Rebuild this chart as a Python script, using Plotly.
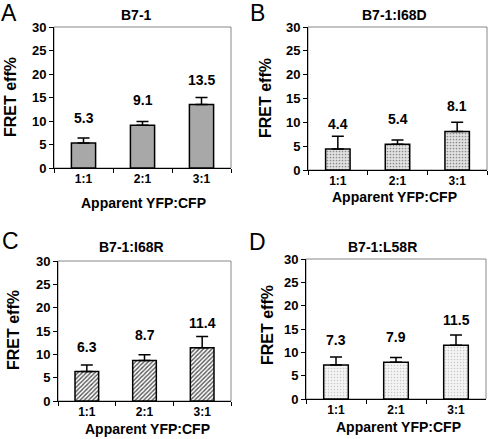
import plotly.graph_objects as go

categories = ["1:1", "2:1", "3:1"]

a_vals = [5.3, 9.1, 13.5]
a_err = [1.1, 0.8, 1.5]
b_vals = [4.4, 5.4, 8.1]
b_err = [2.7, 0.9, 1.9]
c_vals = [6.3, 8.7, 11.4]
c_err = [1.4, 1.2, 2.4]
d_vals = [7.3, 7.9, 11.5]
d_err = [1.7, 1.0, 2.2]

titles = ["B7-1", "B7-1:I68D", "B7-1:I68R", "B7-1:L58R"]
letters = ["A", "B", "C", "D"]
y_ticks = [0, 5, 10, 15, 20, 25, 30]
x_title = "Apparent YFP:CFP"
y_title = "FRET eff%"

W, H = 490, 439
FONT = "Liberation Sans, Arial, sans-serif"

# panel plot areas in window pixels: (left, right, top, bottom)
boxes = [(54, 231, 27, 168), (308, 487, 27, 170), (58, 231, 261, 401), (306, 486, 259, 399)]
title_pos = [(136, 15), (394, 15), (131, 247), (382, 247)]
letter_pos = [(9, 13), (257, 13), (10, 241), (257, 242)]
xtitle_pos = [(143, 203), (394, 197), (147, 429), (398, 427)]
ytitle_pos = [(10, 97), (265, 98), (13, 330), (267, 325)]


def px(x):
    return x / W


def py(y):
    return 1 - y / H


patterns = [
    dict(color="#a8a8a8", pattern=dict(shape="")),
    dict(color="#dcdcdc", pattern=dict(shape=".", fgcolor="#8a8a8a", bgcolor="#e2e2e2", size=3, solidity=0.25)),
    dict(color="#ffffff", pattern=dict(shape="/", fgcolor="#555555", bgcolor="#ffffff", size=3, solidity=0.45)),
    dict(color="#f2f2f2", pattern=dict(shape=".", fgcolor="#c8c8c8", bgcolor="#f4f4f4", size=3, solidity=0.2)),
]

vals = [a_vals, b_vals, c_vals, d_vals]
errs = [a_err, b_err, c_err, d_err]

fig = go.Figure()
layout = dict(template="none", width=W, height=H, autosize=False,
              margin=dict(l=0, r=0, t=0, b=0, pad=0),
              paper_bgcolor="white", plot_bgcolor="white", showlegend=False,
              font=dict(family=FONT, color="black"))
annotations = []
shapes = []

for i in range(4):
    n = "" if i == 0 else str(i + 1)
    xa, ya = "x" + n, "y" + n
    l, r, t, b = boxes[i]
    fig.add_trace(go.Bar(
        x=categories, y=vals[i], xaxis=xa, yaxis=ya,
        marker=dict(line=dict(color="black", width=1.5), **patterns[i]),
        error_y=dict(type="data", array=errs[i], arrayminus=[0, 0, 0], symmetric=False,
                     color="black", thickness=1.5, width=6),
        width=0.41,
    ))
    layout["xaxis" + n] = dict(
        domain=[px(l), px(r)], anchor=ya, type="category", range=[-0.5, 2.5],
        tickvals=categories, ticktext=["<b>%s</b>" % c for c in categories],
        showline=True, linecolor="black", linewidth=1, ticks="outside", ticklen=4,
        tickcolor="black", tickson="boundaries", showgrid=False, zeroline=False,
        automargin=False, tickfont=dict(family=FONT, size=12), fixedrange=True,
    )
    layout["yaxis" + n] = dict(
        domain=[py(b), py(t)], anchor=xa, range=[0, 30], tickvals=y_ticks,
        ticktext=["<b>%d</b>" % v for v in y_ticks],
        showline=True, linecolor="black", linewidth=1, ticks="outside", ticklen=4,
        tickcolor="black", showgrid=False, zeroline=False,
        automargin=False, tickfont=dict(family=FONT, size=13), fixedrange=True,
    )
    shapes.append(dict(type="rect", xref=xa + " domain", yref=ya + " domain",
                       x0=0, x1=1, y0=0, y1=1, line=dict(color="#888888", width=1), layer="below"))
    for c, v in zip(categories, vals[i]):
        annotations.append(dict(x=c, y=v, xref=xa, yref=ya, text="<b>%.1f</b>" % v,
                                showarrow=False, yshift=25, yanchor="middle",
                                font=dict(family=FONT, size=14, color="black")))
    tx, ty = title_pos[i]
    annotations.append(dict(x=px(tx), y=py(ty), xref="paper", yref="paper",
                            text="<b>%s</b>" % titles[i], showarrow=False,
                            xanchor="center", yanchor="middle",
                            font=dict(family=FONT, size=14, color="black")))
    lx, ly = letter_pos[i]
    annotations.append(dict(x=px(lx), y=py(ly), xref="paper", yref="paper",
                            text=letters[i], showarrow=False, xanchor="center", yanchor="middle",
                            font=dict(family=FONT, size=23, color="black")))
    xx, xy = xtitle_pos[i]
    annotations.append(dict(x=px(xx), y=py(xy), xref="paper", yref="paper",
                            text="<b>%s</b>" % x_title, showarrow=False,
                            xanchor="center", yanchor="middle",
                            font=dict(family=FONT, size=14, color="black")))
    yx, yy = ytitle_pos[i]
    annotations.append(dict(x=px(yx), y=py(yy), xref="paper", yref="paper",
                            text="<b>%s</b>" % y_title, showarrow=False, textangle=-90,
                            xanchor="center", yanchor="middle",
                            font=dict(family=FONT, size=16, color="black")))

layout["annotations"] = annotations
layout["shapes"] = shapes
fig.update_layout(**layout)
fig.write_html("out.html", config=dict(displayModeBar=False),
               post_script="document.body.style.margin='0';document.body.style.overflow='hidden';")
